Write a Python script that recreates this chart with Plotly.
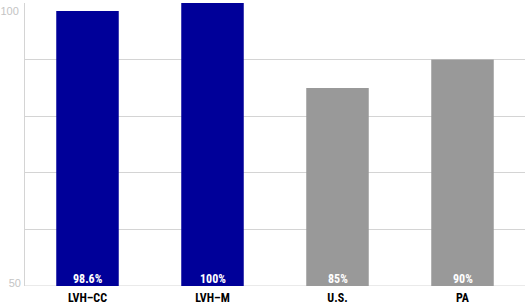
import plotly.graph_objects as go

categories = ["LVH\u2013CC", "LVH\u2013M", "U.S.", "PA"]
values = [98.6, 100, 85, 90]
value_labels = ["98.6%", "100%", "85%", "90%"]
colors = ["#000099", "#000099", "#999999", "#999999"]
y_top_tick = [100]
y_bottom_tick = [50]

FONT = "Roboto Condensed, DejaVu Sans Condensed, sans-serif"
TICKFONT = "Liberation Sans, Arial, sans-serif"

fig = go.Figure(go.Bar(
    x=categories,
    y=values,
    marker=dict(color=colors, line=dict(width=0)),
    hoverinfo="skip",
))

for cat, lab in zip(categories, value_labels):
    fig.add_annotation(
        x=cat, y=50, xref="x", yref="y",
        text=lab, showarrow=False,
        yanchor="bottom", yshift=-2,
        font=dict(family=FONT, size=12, color="white", weight="bold"),
    )

fig.add_trace(go.Scatter(x=categories, y=values, yaxis="y2", mode="none",
                         showlegend=False, hoverinfo="skip"))

fig.update_layout(
    width=525, height=308,
    margin=dict(l=25, r=0, t=3, b=22),
    paper_bgcolor="white", plot_bgcolor="white",
    bargap=0.5,
    showlegend=False,
    xaxis=dict(
        showgrid=False, showline=False, ticks="",
        tickfont=dict(family=FONT, size=12, color="black", weight="bold"),
        ticklabelstandoff=3,
        ticklabeloverflow="allow",
    ),
    yaxis=dict(
        range=[50, 100],
        tickvals=y_top_tick,
        showgrid=True, gridcolor="#d4d4d4", gridwidth=1,
        minor=dict(dtick=10, showgrid=True, gridcolor="#d4d4d4", gridwidth=1),
        showline=True, linecolor="#d4d4d4", linewidth=1,
        zeroline=False, ticks="",
        ticklabelposition="outside bottom",
        ticklabeloverflow="allow",
        tickfont=dict(family=TICKFONT, size=11, color="#c4c4c4"),
        ticklabelstandoff=3,
    ),
    yaxis2=dict(
        range=[50, 100], overlaying="y", side="left",
        tickvals=y_bottom_tick,
        showgrid=False, showline=False, zeroline=False, ticks="",
        ticklabelposition="outside",
        ticklabelshift=-3,
        ticklabeloverflow="allow",
        tickfont=dict(family=TICKFONT, size=11, color="#c4c4c4"),
        ticklabelstandoff=3,
    ),
)
fig.add_hline(y=50, line=dict(color="#d4d4d4", width=1), layer="below")

fig.write_html("out.html")
